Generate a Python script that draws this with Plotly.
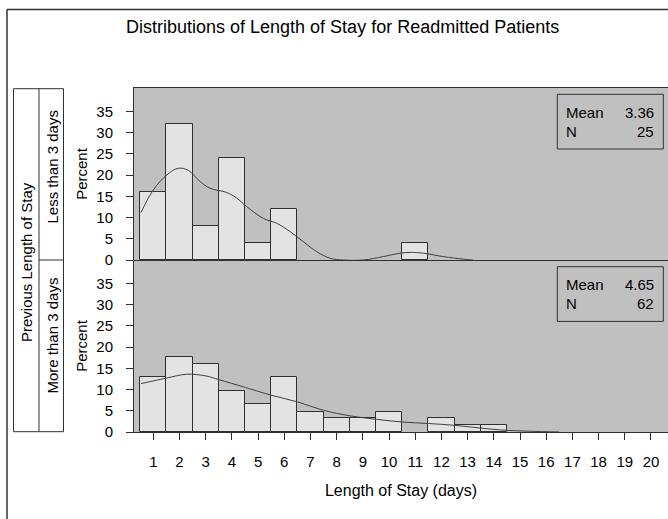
import plotly.graph_objects as go
from plotly.subplots import make_subplots

# ---------------- data ----------------
title_text = "Distributions of Length of Stay for Readmitted Patients"
group_title = "Previous Length of Stay"
group_labels = ["Less than 3 days", "More than 3 days"]

less_x = [1, 2, 3, 4, 5, 6, 11]
less_pct = [16, 32, 8, 24, 4, 12, 4]

more_x = [1, 2, 3, 4, 5, 6, 7, 8, 9, 10, 12, 13, 14]
more_pct = [12.9, 17.7, 16.1, 9.7, 6.5, 12.9, 4.8, 3.2, 3.2, 4.8, 3.2, 1.6, 1.6]

less_kde_x = [0.53, 1.0, 1.51, 1.95, 2.34, 2.78, 3.16, 3.80, 4.18, 4.56, 5.20, 5.71,
              6.22, 6.73, 7.24, 7.75, 8.25, 9.02, 9.78, 10.42, 10.86, 11.31, 12.07,
              12.83, 13.2]
less_kde_y = [11.2, 16.5, 20.0, 21.6, 21.1, 18.5, 16.9, 15.9, 14.6, 12.6, 9.8, 8.65,
              6.7, 4.3, 1.96, 0.4, 0.0, 0.0, 0.8, 1.6, 1.8, 1.6, 0.8, 0.2, 0.0]

more_kde_x = [0.53, 1.51, 2.27, 3.01, 3.52, 4.51, 5.50, 6.50, 7.50, 8.51, 9.50, 10.50,
              11.50, 12.49, 13.47, 14.49, 16.5]
more_kde_y = [11.4, 12.7, 13.6, 13.2, 12.3, 10.5, 8.66, 7.1, 5.1, 3.8, 3.0, 2.36,
              2.0, 1.58, 0.94, 0.4, 0.0]

means = ["3.36", "4.65"]
ns = ["25", "62"]

x_ticks = list(range(1, 21))
y_ticks = [0, 5, 10, 15, 20, 25, 30, 35]

# ---------------- style / layout ----------------
W, H = 668, 519
L, R, T, B = 134, 668, 88, 432
FONT = "Liberation Sans, Arial, sans-serif"
DARK = "#303030"
BG = "#C0C0C0"
BARFILL = "#E3E3E3"


def px(x):
    return (x - L) / (R - L)


def py(y):
    return (B - y) / (B - T)


fig = make_subplots(rows=2, cols=1, shared_xaxes=True, vertical_spacing=0)

fig.add_trace(go.Bar(x=less_x, y=less_pct, width=1,
                     marker=dict(color=BARFILL, line=dict(color=DARK, width=1)),
                     showlegend=False), row=1, col=1)
fig.add_trace(go.Scatter(x=less_kde_x, y=less_kde_y, mode="lines",
                         line=dict(color="#404040", width=1, shape="spline"),
                         showlegend=False), row=1, col=1)
fig.add_trace(go.Bar(x=more_x, y=more_pct, width=1,
                     marker=dict(color=BARFILL, line=dict(color=DARK, width=1)),
                     showlegend=False), row=2, col=1)
fig.add_trace(go.Scatter(x=more_kde_x, y=more_kde_y, mode="lines",
                         line=dict(color="#404040", width=1, shape="spline"),
                         showlegend=False), row=2, col=1)

yax = dict(range=[0, 40.5], tickvals=y_ticks, ticks="outside", ticklen=7,
           tickcolor=DARK, showline=True, linecolor=DARK, linewidth=1,
           showgrid=False, zeroline=False, ticklabelstandoff=10,
           tickfont=dict(family=FONT, size=15, color="#000"),
           title=dict(text="Percent", standoff=5,
                      font=dict(family=FONT, size=15, color="#000")))
fig.update_yaxes(**yax, row=1, col=1)
fig.update_yaxes(**yax, row=2, col=1)

fig.update_xaxes(range=[0.263, 20.65], showgrid=False, zeroline=False,
                 showline=True, linecolor=DARK, linewidth=1, mirror=True,
                 ticks="", showticklabels=False, row=1, col=1)
fig.update_xaxes(range=[0.263, 20.65], showgrid=False, zeroline=False,
                 showline=True, linecolor=DARK, linewidth=1,
                 tickvals=x_ticks, ticks="outside", ticklen=7, tickcolor=DARK,
                 showticklabels=True, ticklabelstandoff=9,
                 tickfont=dict(family=FONT, size=15, color="#000"),
                 title=dict(text="Length of Stay (days)", standoff=15,
                            font=dict(family=FONT, size=16, color="#000")),
                 row=2, col=1)

shapes = []
# outer frame
shapes.append(dict(type="line", xref="paper", yref="paper", x0=px(7), x1=px(7),
                   y0=py(520), y1=py(9.5), line=dict(color=DARK, width=1.5)))
shapes.append(dict(type="line", xref="paper", yref="paper", x0=px(7), x1=px(670),
                   y0=py(9.5), y1=py(9.5), line=dict(color=DARK, width=1.5)))
# group label boxes
shapes.append(dict(type="rect", xref="paper", yref="paper", x0=px(13.5), x1=px(63.5),
                   y0=py(431.7), y1=py(88.7), line=dict(color=DARK, width=1)))
shapes.append(dict(type="line", xref="paper", yref="paper", x0=px(39), x1=px(39),
                   y0=py(431.7), y1=py(88.7), line=dict(color=DARK, width=1)))
shapes.append(dict(type="line", xref="paper", yref="paper", x0=px(39), x1=px(63.5),
                   y0=py(260), y1=py(260), line=dict(color=DARK, width=1)))
# stat boxes
for top in (94.3, 266.7):
    shapes.append(dict(type="rect", xref="paper", yref="paper", x0=px(557.3), x1=px(663.3),
                       y0=py(top + 54.7), y1=py(top), fillcolor=BG,
                       line=dict(color=DARK, width=1)))

annotations = []
annotations.append(dict(text=title_text, xref="paper", yref="paper", x=px(342), y=py(27),
                        xanchor="center", yanchor="middle", showarrow=False,
                        font=dict(family=FONT, size=18, color="#000")))
annotations.append(dict(text=group_title, xref="paper", yref="paper", x=px(26), y=py(262),
                        xanchor="center", yanchor="middle", textangle=-90, showarrow=False,
                        font=dict(family=FONT, size=15, color="#000")))
for lab, yc in zip(group_labels, (167, 336)):
    annotations.append(dict(text=lab, xref="paper", yref="paper", x=px(51.5), y=py(yc),
                            xanchor="center", yanchor="middle", textangle=-90,
                            showarrow=False,
                            font=dict(family=FONT, size=15, color="#000")))
for m, n, top in zip(means, ns, (94.3, 266.7)):
    for lab, val, dy in (("Mean", m, 18), ("N", n, 37)):
        annotations.append(dict(text=lab, xref="paper", yref="paper", x=px(564),
                                y=py(top + dy), xanchor="left", yanchor="middle",
                                showarrow=False,
                                font=dict(family=FONT, size=15, color="#000")))
        annotations.append(dict(text=val, xref="paper", yref="paper", x=px(656),
                                y=py(top + dy), xanchor="right", yanchor="middle",
                                showarrow=False,
                                font=dict(family=FONT, size=15, color="#000")))

fig.update_layout(width=W, height=H, margin=dict(l=L, r=W - R, t=T, b=H - B),
                  paper_bgcolor="white", plot_bgcolor=BG, bargap=0,
                  shapes=shapes, annotations=annotations,
                  font=dict(family=FONT, size=15, color="#000"))

fig.write_html("out.html")
